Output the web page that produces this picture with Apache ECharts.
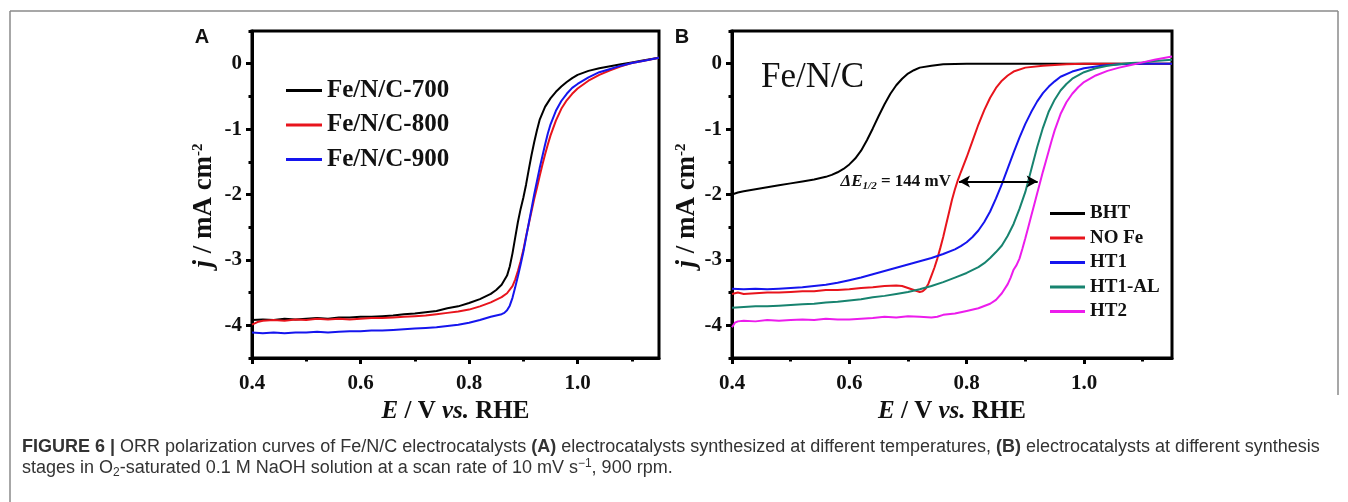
<!DOCTYPE html>
<html><head><meta charset="utf-8">
<script src="https://cdn.jsdelivr.net/npm/echarts@6.0.0/dist/echarts.min.js"></script>
<style>html,body{margin:0;padding:0;background:#fff;}#c{width:1348px;height:502px;}</style>
</head><body><div id="c"></div>
<script>
// ---------- tick labels ----------
const xMajorTicks = [0.4, 0.6, 0.8, 1.0];
const xMinorTicks = [0.5, 0.7, 0.9, 1.1];
const yMajorTicks = [0, -1, -2, -3, -4];
const yMinorTicks = [0.5, -0.5, -1.5, -2.5, -3.5, -4.5];

// ---------- categories ----------
const namesA = ['Fe/N/C-700', 'Fe/N/C-800', 'Fe/N/C-900'];
const namesB = ['BHT', 'NO Fe', 'HT1', 'HT1-AL', 'HT2'];

// ---------- panel A series ([E, j]) ----------
const fe700 = [[0.40,-3.92],[0.42,-3.91],[0.44,-3.92],[0.46,-3.90],[0.48,-3.91],[0.50,-3.90],[0.52,-3.89],[0.54,-3.90],[0.56,-3.88],[0.58,-3.88],[0.60,-3.87],[0.62,-3.87],[0.64,-3.86],[0.66,-3.85],[0.68,-3.83],[0.70,-3.82],[0.72,-3.80],[0.74,-3.78],[0.76,-3.74],[0.78,-3.71],[0.80,-3.66],[0.82,-3.60],[0.84,-3.52],[0.85,-3.46],[0.86,-3.38],[0.87,-3.24],[0.875,-3.10],[0.88,-2.90],[0.885,-2.66],[0.89,-2.42],[0.895,-2.22],[0.90,-2.05],[0.905,-1.85],[0.91,-1.62],[0.915,-1.40],[0.92,-1.20],[0.925,-1.02],[0.93,-0.86],[0.94,-0.66],[0.95,-0.53],[0.96,-0.43],[0.97,-0.35],[0.98,-0.28],[0.99,-0.22],[1.00,-0.17],[1.02,-0.11],[1.04,-0.07],[1.06,-0.04],[1.08,-0.01],[1.10,0.02],[1.12,0.05],[1.15,0.09]];
const fe800 = [[0.40,-3.99],[0.41,-3.95],[0.42,-3.93],[0.44,-3.92],[0.46,-3.93],[0.48,-3.91],[0.50,-3.92],[0.52,-3.90],[0.54,-3.91],[0.56,-3.90],[0.58,-3.91],[0.60,-3.90],[0.62,-3.89],[0.64,-3.89],[0.66,-3.88],[0.68,-3.87],[0.70,-3.86],[0.72,-3.85],[0.74,-3.83],[0.76,-3.81],[0.78,-3.79],[0.80,-3.76],[0.82,-3.71],[0.84,-3.65],[0.86,-3.57],[0.87,-3.51],[0.88,-3.40],[0.885,-3.30],[0.89,-3.17],[0.895,-3.02],[0.90,-2.85],[0.905,-2.64],[0.91,-2.45],[0.915,-2.26],[0.92,-2.07],[0.925,-1.90],[0.93,-1.72],[0.935,-1.55],[0.94,-1.39],[0.945,-1.24],[0.95,-1.10],[0.96,-0.87],[0.97,-0.69],[0.98,-0.56],[0.99,-0.46],[1.00,-0.38],[1.02,-0.26],[1.04,-0.17],[1.06,-0.10],[1.08,-0.04],[1.10,0.01],[1.12,0.04],[1.15,0.09]];
const fe900 = [[0.40,-4.11],[0.42,-4.12],[0.44,-4.11],[0.46,-4.12],[0.48,-4.11],[0.50,-4.11],[0.52,-4.10],[0.54,-4.11],[0.56,-4.10],[0.58,-4.09],[0.60,-4.09],[0.62,-4.08],[0.64,-4.08],[0.66,-4.07],[0.68,-4.06],[0.70,-4.05],[0.72,-4.04],[0.74,-4.03],[0.76,-4.01],[0.78,-3.99],[0.80,-3.96],[0.82,-3.92],[0.84,-3.87],[0.85,-3.85],[0.86,-3.83],[0.865,-3.81],[0.87,-3.77],[0.875,-3.70],[0.88,-3.58],[0.885,-3.42],[0.89,-3.25],[0.895,-3.07],[0.90,-2.88],[0.905,-2.66],[0.91,-2.44],[0.915,-2.22],[0.92,-2.00],[0.925,-1.80],[0.93,-1.60],[0.935,-1.42],[0.94,-1.24],[0.945,-1.07],[0.95,-0.93],[0.96,-0.72],[0.97,-0.57],[0.98,-0.46],[0.99,-0.37],[1.00,-0.31],[1.02,-0.21],[1.04,-0.13],[1.06,-0.08],[1.08,-0.03],[1.10,0.01],[1.12,0.04],[1.15,0.09]];

// ---------- panel B series ([E, j]) ----------
const bht = [[0.40,-2.00],[0.41,-1.97],[0.42,-1.95],[0.44,-1.92],[0.46,-1.89],[0.48,-1.86],[0.50,-1.83],[0.52,-1.80],[0.54,-1.77],[0.56,-1.73],[0.57,-1.70],[0.58,-1.66],[0.59,-1.61],[0.60,-1.54],[0.61,-1.45],[0.62,-1.33],[0.63,-1.17],[0.64,-0.99],[0.65,-0.80],[0.66,-0.62],[0.67,-0.46],[0.68,-0.33],[0.69,-0.23],[0.70,-0.15],[0.71,-0.10],[0.72,-0.06],[0.74,-0.03],[0.76,-0.01],[0.80,0.00],[0.90,0.00],[1.00,0.00],[1.15,0.00]];
const noFe = [[0.40,-3.52],[0.41,-3.50],[0.42,-3.52],[0.44,-3.51],[0.46,-3.50],[0.48,-3.50],[0.50,-3.49],[0.52,-3.48],[0.54,-3.48],[0.56,-3.46],[0.58,-3.46],[0.60,-3.45],[0.62,-3.43],[0.64,-3.42],[0.66,-3.40],[0.68,-3.39],[0.69,-3.40],[0.70,-3.43],[0.71,-3.46],[0.72,-3.49],[0.725,-3.48],[0.73,-3.44],[0.735,-3.36],[0.74,-3.24],[0.745,-3.12],[0.75,-2.98],[0.755,-2.82],[0.76,-2.65],[0.765,-2.46],[0.77,-2.27],[0.775,-2.08],[0.78,-1.92],[0.785,-1.78],[0.79,-1.66],[0.80,-1.43],[0.81,-1.18],[0.82,-0.93],[0.83,-0.71],[0.84,-0.52],[0.85,-0.37],[0.86,-0.26],[0.87,-0.18],[0.88,-0.12],[0.90,-0.06],[0.93,-0.03],[0.97,-0.01],[1.00,0.00],[1.15,0.00]];
const ht1 = [[0.40,-3.44],[0.42,-3.45],[0.44,-3.44],[0.46,-3.45],[0.48,-3.44],[0.50,-3.43],[0.52,-3.42],[0.54,-3.40],[0.56,-3.38],[0.58,-3.35],[0.60,-3.31],[0.62,-3.27],[0.64,-3.22],[0.66,-3.17],[0.68,-3.12],[0.70,-3.07],[0.72,-3.02],[0.74,-2.97],[0.76,-2.91],[0.78,-2.84],[0.79,-2.79],[0.80,-2.73],[0.81,-2.65],[0.82,-2.55],[0.83,-2.42],[0.84,-2.26],[0.85,-2.06],[0.86,-1.84],[0.87,-1.60],[0.88,-1.36],[0.89,-1.13],[0.90,-0.92],[0.91,-0.74],[0.92,-0.58],[0.93,-0.45],[0.94,-0.35],[0.95,-0.27],[0.96,-0.20],[0.98,-0.12],[1.00,-0.07],[1.03,-0.03],[1.06,-0.01],[1.10,0.00],[1.15,0.00]];
const ht1al = [[0.40,-3.73],[0.42,-3.72],[0.44,-3.71],[0.46,-3.71],[0.48,-3.70],[0.50,-3.69],[0.52,-3.68],[0.54,-3.67],[0.56,-3.65],[0.58,-3.64],[0.60,-3.62],[0.62,-3.60],[0.64,-3.57],[0.66,-3.55],[0.68,-3.52],[0.70,-3.49],[0.72,-3.45],[0.74,-3.40],[0.76,-3.34],[0.78,-3.27],[0.80,-3.20],[0.82,-3.11],[0.83,-3.05],[0.84,-2.97],[0.85,-2.88],[0.86,-2.78],[0.87,-2.63],[0.88,-2.45],[0.89,-2.22],[0.90,-1.96],[0.91,-1.62],[0.92,-1.28],[0.93,-0.98],[0.94,-0.73],[0.95,-0.55],[0.96,-0.41],[0.97,-0.31],[0.98,-0.23],[1.00,-0.13],[1.02,-0.07],[1.04,-0.03],[1.06,-0.01],[1.08,0.01],[1.10,0.02],[1.12,0.04],[1.15,0.06]];
const ht2 = [[0.40,-4.03],[0.405,-3.96],[0.41,-3.94],[0.42,-3.93],[0.44,-3.94],[0.46,-3.92],[0.48,-3.93],[0.50,-3.92],[0.52,-3.91],[0.54,-3.92],[0.56,-3.90],[0.58,-3.91],[0.60,-3.91],[0.62,-3.90],[0.64,-3.89],[0.66,-3.87],[0.68,-3.88],[0.70,-3.86],[0.72,-3.87],[0.74,-3.88],[0.75,-3.87],[0.76,-3.84],[0.78,-3.82],[0.80,-3.78],[0.82,-3.74],[0.84,-3.67],[0.85,-3.61],[0.86,-3.51],[0.87,-3.37],[0.875,-3.27],[0.88,-3.15],[0.885,-3.08],[0.89,-2.98],[0.895,-2.83],[0.90,-2.67],[0.905,-2.50],[0.91,-2.33],[0.915,-2.16],[0.92,-1.99],[0.925,-1.82],[0.93,-1.65],[0.935,-1.49],[0.94,-1.33],[0.945,-1.17],[0.95,-1.02],[0.96,-0.77],[0.97,-0.59],[0.98,-0.46],[0.99,-0.36],[1.00,-0.28],[1.02,-0.18],[1.04,-0.11],[1.06,-0.06],[1.08,-0.02],[1.10,0.02],[1.12,0.06],[1.15,0.11]];

// half-wave potential arrow (NO Fe -> HT2) and its value
const deltaArrow = [[0.787, -1.8], [0.921, -1.8]];
const deltaLabel = '144 mV';

const colorsA = ['#000000', '#e8141c', '#1515ee'];
const colorsB = ['#000000', '#e8141c', '#1515ee', '#17836f', '#ec1cec'];

const serif = "'Liberation Serif','Times New Roman',serif";
const sans = "'Liberation Sans',Arial,sans-serif";

function richBase(size) {
  return {
    r: {fontFamily: serif, fontWeight: 'bold', fontSize: size, color: '#111'},
    i: {fontFamily: serif, fontWeight: 'bold', fontStyle: 'italic', fontSize: size, color: '#111'},
    sup: {fontFamily: serif, fontWeight: 'bold', fontSize: Math.round(size * 0.55), color: '#111', verticalAlign: 'top', lineHeight: Math.round(size * 0.6)}
  };
}

function makeX(grid) {
  return [
    {
      type: 'value', gridIndex: grid, min: 0.4, max: 1.15, position: 'bottom',
      axisLine: {show: true, onZero: false, lineStyle: {color: '#000', width: 3}},
      axisTick: {show: true, length: 6, lineStyle: {color: '#000', width: 3}, customValues: xMajorTicks},
      axisLabel: {customValues: xMajorTicks, formatter: v => v.toFixed(1), color: '#111', fontFamily: serif, fontWeight: 'bold', fontSize: 21, margin: 15},
      splitLine: {show: false},
      name: '{i|E}{r| / V }{i|vs.}{r| RHE}', nameLocation: 'middle', nameGap: 38,
      nameTextStyle: {fontFamily: serif, fontWeight: 'bold', fontSize: 25, color: '#111', rich: richBase(25)}
    },
    {
      type: 'value', gridIndex: grid, min: 0.4, max: 1.15, position: 'bottom',
      axisLine: {show: false, onZero: false},
      axisTick: {show: true, length: 3.5, lineStyle: {color: '#000', width: 3}, customValues: xMinorTicks},
      axisLabel: {show: false}, splitLine: {show: false}
    }
  ];
}
function makeY(grid, gap) {
  return [
    {
      type: 'value', gridIndex: grid, min: -4.5, max: 0.5, position: 'left',
      axisLine: {show: true, onZero: false, lineStyle: {color: '#000', width: 3}},
      axisTick: {show: true, length: 6, lineStyle: {color: '#000', width: 3}, customValues: yMajorTicks},
      axisLabel: {customValues: yMajorTicks, formatter: v => String(v), color: '#111', fontFamily: serif, fontWeight: 'bold', fontSize: 21, margin: 10},
      splitLine: {show: false},
      name: '{i|j}{r| / mA cm}{sup|-2}', nameLocation: 'middle', nameGap: gap, nameRotate: 90,
      nameTextStyle: {fontFamily: serif, fontWeight: 'bold', fontSize: 27, color: '#111', padding: [0, 22, 0, 0], rich: richBase(27)}
    },
    {
      type: 'value', gridIndex: grid, min: -4.5, max: 0.5, position: 'left',
      axisLine: {show: false, onZero: false},
      axisTick: {show: true, length: 3.5, lineStyle: {color: '#000', width: 3}, customValues: yMinorTicks},
      axisLabel: {show: false}, splitLine: {show: false}
    }
  ];
}

function line(name, data, color, xi, yi) {
  return {
    name, type: 'line', data, xAxisIndex: xi, yAxisIndex: yi,
    showSymbol: false, symbol: 'none', smooth: false, clip: true,
    lineStyle: {color, width: 2}, itemStyle: {color}, emphasis: {disabled: true}
  };
}

const seriesA = [fe700, fe800, fe900].map((d, k) => line(namesA[k], d, colorsA[k], 0, 0));
const seriesB = [bht, noFe, ht1, ht1al, ht2].map((d, k) => line(namesB[k], d, colorsB[k], 2, 2));
seriesB[0].markLine = {
  silent: true, animation: false,
  symbol: ['arrow', 'arrow'], symbolSize: [9, 11],
  lineStyle: {color: '#000', width: 2, type: 'solid'},
  label: {
    show: true, position: 'start', distance: 8,
    formatter: '{i|ΔE}{s|1/2}{b| = ' + deltaLabel + '}',
    rich: {
      i: {fontFamily: serif, fontWeight: 'bold', fontStyle: 'italic', fontSize: 17, color: '#111', lineHeight: 20},
      s: {fontFamily: serif, fontWeight: 'bold', fontStyle: 'italic', fontSize: 11, color: '#111', verticalAlign: 'bottom', lineHeight: 12},
      b: {fontFamily: serif, fontWeight: 'bold', fontSize: 17, color: '#111', lineHeight: 20}
    }
  },
  data: [[{coord: deltaArrow[0]}, {coord: deltaArrow[1]}]]
};

const capRich = {
  n: {fontFamily: sans, fontSize: 18, color: '#333', lineHeight: 21},
  b: {fontFamily: sans, fontSize: 18, fontWeight: 'bold', color: '#333', lineHeight: 21},
  sub: {fontFamily: sans, fontSize: 12, color: '#333', verticalAlign: 'bottom', lineHeight: 15},
  sup: {fontFamily: sans, fontSize: 12, color: '#333', verticalAlign: 'top', lineHeight: 15}
};
const captionText =
  '{b|FIGURE 6 |}{n| ORR polarization curves of Fe/N/C electrocatalysts }{b|(A)}{n| electrocatalysts synthesized at different temperatures, }{b|(B)}{n| electrocatalysts at different synthesis}\n' +
  '{n|stages in O}{sub|2}{n|-saturated 0.1 M NaOH solution at a scan rate of 10 mV s}{sup|−1}{n|, 900 rpm.}';

const option = {
  animation: false,
  backgroundColor: '#ffffff',
  grid: [
    {left: 252, top: 31, width: 407, height: 327, show: true, borderColor: '#000', borderWidth: 3, backgroundColor: 'transparent'},
    {left: 732, top: 31, width: 440, height: 327, show: true, borderColor: '#000', borderWidth: 3, backgroundColor: 'transparent'}
  ],
  xAxis: [...makeX(0), ...makeX(1)],
  yAxis: [...makeY(0, 34), ...makeY(1, 30)],
  legend: [
    {data: namesA, orient: 'vertical', left: 286, top: 78, padding: 0, itemWidth: 36, itemHeight: 3, itemGap: 9.5, icon: 'rect',
     selectedMode: false, textStyle: {fontFamily: serif, fontWeight: 'bold', fontSize: 25, color: '#111', lineHeight: 24}},
    {data: namesB, orient: 'vertical', left: 1050, top: 204, padding: 0, itemWidth: 35, itemHeight: 3, itemGap: 5.5, icon: 'rect',
     selectedMode: false, textStyle: {fontFamily: serif, fontWeight: 'bold', fontSize: 19, color: '#111', lineHeight: 19}}
  ],
  series: [...seriesA, ...seriesB],
  graphic: [
    {type: 'line', shape: {x1: 10, y1: 11, x2: 1338, y2: 11}, style: {stroke: '#8a8a8a', lineWidth: 1.5}, silent: true},
    {type: 'line', shape: {x1: 10, y1: 11, x2: 10, y2: 502}, style: {stroke: '#8a8a8a', lineWidth: 1.5}, silent: true},
    {type: 'line', shape: {x1: 1338, y1: 11, x2: 1338, y2: 395}, style: {stroke: '#8a8a8a', lineWidth: 1.5}, silent: true},
    {type: 'text', x: 202, y: 37, style: {text: 'A', font: 'bold 20px ' + sans, fill: '#111', align: 'center', verticalAlign: 'middle'}, silent: true},
    {type: 'text', x: 682, y: 37, style: {text: 'B', font: 'bold 20px ' + sans, fill: '#111', align: 'center', verticalAlign: 'middle'}, silent: true},
    {type: 'text', x: 761, y: 78, style: {text: 'Fe/N/C', font: '35px ' + serif, fill: '#111', align: 'left', verticalAlign: 'middle'}, silent: true},
    {type: 'text', x: 22, y: 437, style: {text: captionText, rich: capRich, fill: '#333', align: 'left', verticalAlign: 'top', font: '18px ' + sans}, silent: true}
  ]
};

const chart = echarts.init(document.getElementById('c'), null, {renderer: 'canvas'});
chart.setOption(option);
</script>
</body></html>
